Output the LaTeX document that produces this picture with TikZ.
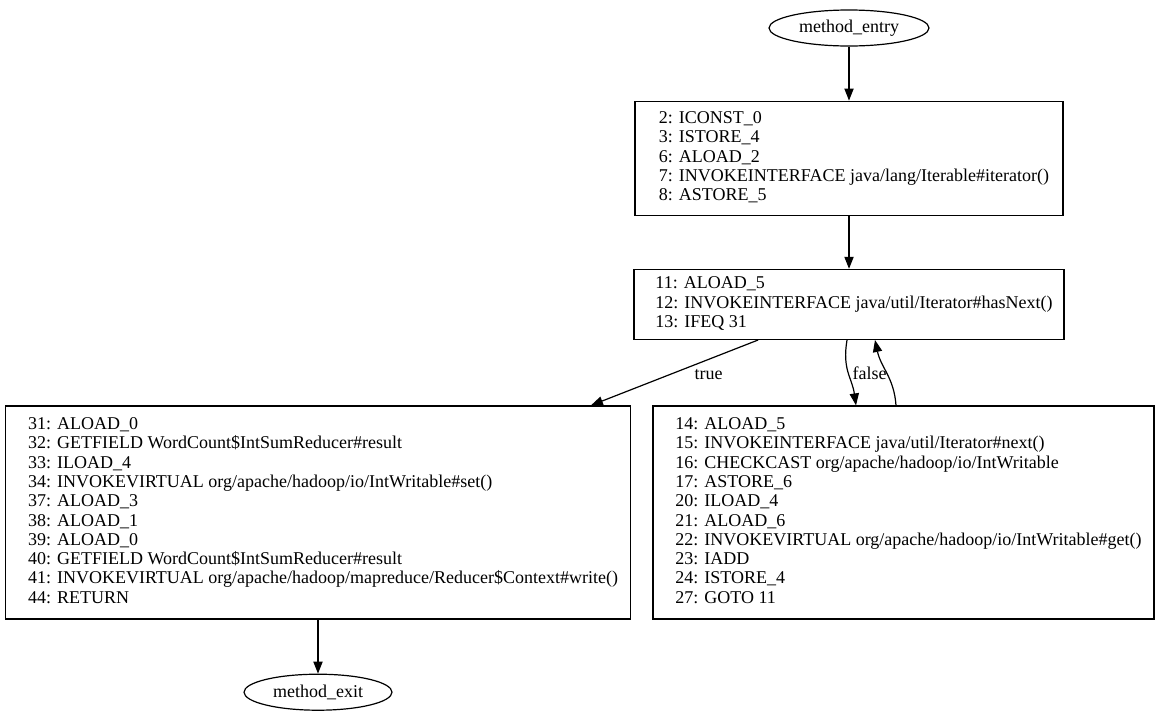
\documentclass[tikz,border=0pt]{standalone}
\usepackage{fontspec}
\setmainfont{Liberation Serif}
\usetikzlibrary{arrows.meta,positioning,shapes.geometric}
\newcommand{\insns}[1]{\begin{tabular}{@{\hspace{5pt}}l@{}}#1\end{tabular}}

\begin{document}
\begin{tikzpicture}[
  x=0.5pt, y=-0.5pt,
  node distance=27pt,
  block/.style={draw, line width=0.6pt, inner sep=0pt,
                font=\fontsize{9}{9.65}\selectfont},
  term/.style={draw, ellipse, line width=0.6pt, inner sep=0pt, minimum height=18pt,
               font=\fontsize{9}{9.65}\selectfont},
  arrow/.style={-{Triangle[length=6pt,width=4.6pt]}, line width=0.6pt},
  edgelbl/.style={font=\fontsize{9}{9.65}\selectfont, inner sep=1pt}
]
\useasboundingbox (0,0) rectangle (1160,723);

\node[term, minimum width=80pt] (entry) at (849,28) {method\_entry};
\node[block, minimum width=214pt, minimum height=57pt, below=of entry] (init)
  {\insns{2: ICONST\_0\\3: ISTORE\_4\\6: ALOAD\_2\\7: INVOKEINTERFACE java/lang/Iterable\#iterator()\\8: ASTORE\_5}};
\node[block, minimum width=215pt, minimum height=35pt, below=26.5pt of init] (loop)
  {\insns{11: ALOAD\_5\\12: INVOKEINTERFACE java/util/Iterator\#hasNext()\\13: IFEQ 31}};
\node[block, minimum width=312.5pt, minimum height=106.5pt] (done) at (318,512.5)
  {\insns{31: ALOAD\_0\\32: GETFIELD WordCount\$IntSumReducer\#result\\33: ILOAD\_4\\%
   34: INVOKEVIRTUAL org/apache/hadoop/io/IntWritable\#set()\\37: ALOAD\_3\\38: ALOAD\_1\\%
   39: ALOAD\_0\\40: GETFIELD WordCount\$IntSumReducer\#result\\%
   41: INVOKEVIRTUAL org/apache/hadoop/mapreduce/Reducer\$Context\#write()\\44: RETURN}};
\node[block, minimum width=250.5pt, minimum height=106.5pt] (body) at (903.5,512.5)
  {\insns{14: ALOAD\_5\\15: INVOKEINTERFACE java/util/Iterator\#next()\\%
   16: CHECKCAST org/apache/hadoop/io/IntWritable\\17: ASTORE\_6\\20: ILOAD\_4\\%
   21: ALOAD\_6\\22: INVOKEVIRTUAL org/apache/hadoop/io/IntWritable\#get()\\23: IADD\\%
   24: ISTORE\_4\\27: GOTO 11}};
\node[term, minimum width=74pt, below=of done] (exit) {method\_exit};

\draw[arrow] (entry) -- (init);
\draw[arrow] (init) -- (loop);
\draw[arrow] (loop) -- node[edgelbl, xshift=17pt, yshift=-1pt] {true} (done);
\draw[arrow] ([xshift=-1pt]loop.south) .. controls +(-2.5pt,-15pt) and +(-2pt,14pt)
  .. node[edgelbl, right, xshift=1pt] {false} ([xshift=-23.75pt]body.north);
\draw[arrow] ([xshift=-3.75pt]body.north) .. controls +(-1pt,14pt) and +(3pt,-14pt)
  .. ([xshift=13pt]loop.south);
\draw[arrow] (done) -- (exit);
\end{tikzpicture}
\end{document}
